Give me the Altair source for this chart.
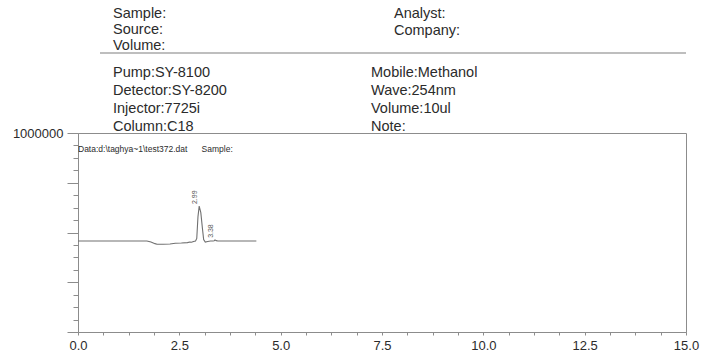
import altair as alt
import pandas as pd

# Chromatogram trace: retention time (min) vs detector signal
time_min = [0.00, 1.70, 1.80, 1.90, 1.95, 2.10, 2.27, 2.40, 2.55, 2.70, 2.76, 2.80,
            2.85, 2.90, 2.93, 2.96, 2.99, 3.03, 3.07, 3.10, 3.14, 3.20, 3.27,
            3.33, 3.36, 3.38, 3.41, 3.45, 4.40]
signal = [457000, 457000, 452000, 444000, 441000, 441000, 442000, 446000, 447000,
          449000, 452000, 451000, 455000, 457000, 470000, 580000, 633000, 600000,
          520000, 465000, 452000, 455000, 457000, 457000, 459000, 463000, 459000,
          457000, 457000]

# Integrated peaks (retention time labels)
peak_time = [2.99, 3.38]
peak_label = ["2.99", "3.38"]
peak_signal = [633000, 463000]

# Report header
header_left_top = ["Sample:", "Source:", "Volume:"]
header_right_top = ["Analyst:", "Company:"]
header_left = ["Pump:SY-8100", "Detector:SY-8200", "Injector:7725i", "Column:C18"]
header_right = ["Mobile:Methanol", "Wave:254nm", "Volume:10ul", "Note:"]
data_file_line = "Data:d:\\taghya~1\\test372.dat" + "\u00a0" * 6 + "Sample:"

# Axis ticks: minor divisions, labels only on the major ones
x_ticks = [float(i) * 0.625 for i in range(25)]
y_ticks = [float(i) * 62500 for i in range(17)]

trace = pd.DataFrame({"time": time_min, "signal": signal})
peaks = pd.DataFrame({"time": peak_time, "label": peak_label, "signal": peak_signal})

FONT = "Liberation Sans"
TXT = "#2b2b2b"
GRID = "#8c8c8c"

x_scale = alt.Scale(domain=[0, 15], nice=False, zero=False)
y_scale = alt.Scale(domain=[0, 1000000], nice=False, zero=False)

x_axis = alt.Axis(
    title=None, values=x_ticks,
    labelExpr="datum.value % 2.5 == 0 ? format(datum.value, '.1f') : ''",
    tickSize=3, labelPadding=4, labelFontSize=13, labelColor=TXT, labelFont=FONT,
    domainColor=GRID, tickColor=GRID, grid=False, labelFlush=False,
    labelOverlap=False, tickCount=25,
)
y_axis = alt.Axis(
    title=None, values=y_ticks,
    labelExpr="datum.value == 1000000 ? '1000000' : ''",
    tickSize=alt.condition("datum.value % 250000 == 0", alt.value(11), alt.value(5)),
    labelPadding=4, labelFontSize=13, labelColor=TXT, labelFont=FONT,
    domainColor=GRID, tickColor=GRID, grid=False, labelFlush=False,
    labelOverlap=False, tickCount=17,
)

line = alt.Chart(trace).mark_line(color="#707070", strokeWidth=1.1).encode(
    x=alt.X("time:Q", scale=x_scale, axis=x_axis),
    y=alt.Y("signal:Q", scale=y_scale, axis=y_axis),
)

peak_text = alt.Chart(peaks).mark_text(
    angle=270, align="left", baseline="middle", dx=2, dy=-4,
    fontSize=7, font=FONT, color="#555555",
).encode(
    x=alt.X("time:Q", scale=x_scale),
    y=alt.Y("signal:Q", scale=y_scale),
    text="label:N",
)


def text_layer(lines, x, y0, step, size=14.5):
    layers = []
    for i, t in enumerate(lines):
        layers.append(
            alt.Chart(pd.DataFrame({"t": [t]})).mark_text(
                align="left", baseline="middle", fontSize=size, font=FONT, color=TXT,
            ).encode(x=alt.value(x), y=alt.value(y0 + i * step), text="t:N")
        )
    return layers


header = []
header += text_layer(header_left_top, 35, -119, 16)
header += text_layer(header_right_top, 316, -119, 17)
header += text_layer(header_left, 35, -60, 18)
header += text_layer(header_right, 293, -60, 18)
header += text_layer([data_file_line], 0, 16, 0, size=8.5)

header_rule = alt.Chart(pd.DataFrame({"t": [0]})).mark_rule(
    color="#a8a8a8", strokeWidth=1.5
).encode(x=alt.value(22), x2=alt.value(608), y=alt.value(-80))

chart = alt.layer(line, peak_text, header_rule, *header).properties(
    width=608, height=199,
    autosize=alt.AutoSizeParams(type="none"),
    padding={"left": 78, "top": 133, "right": 15, "bottom": 21},
    background="white",
).configure_view(stroke=GRID, strokeWidth=1)

chart.save("out.html", embed_options={"renderer": "svg", "actions": False})
